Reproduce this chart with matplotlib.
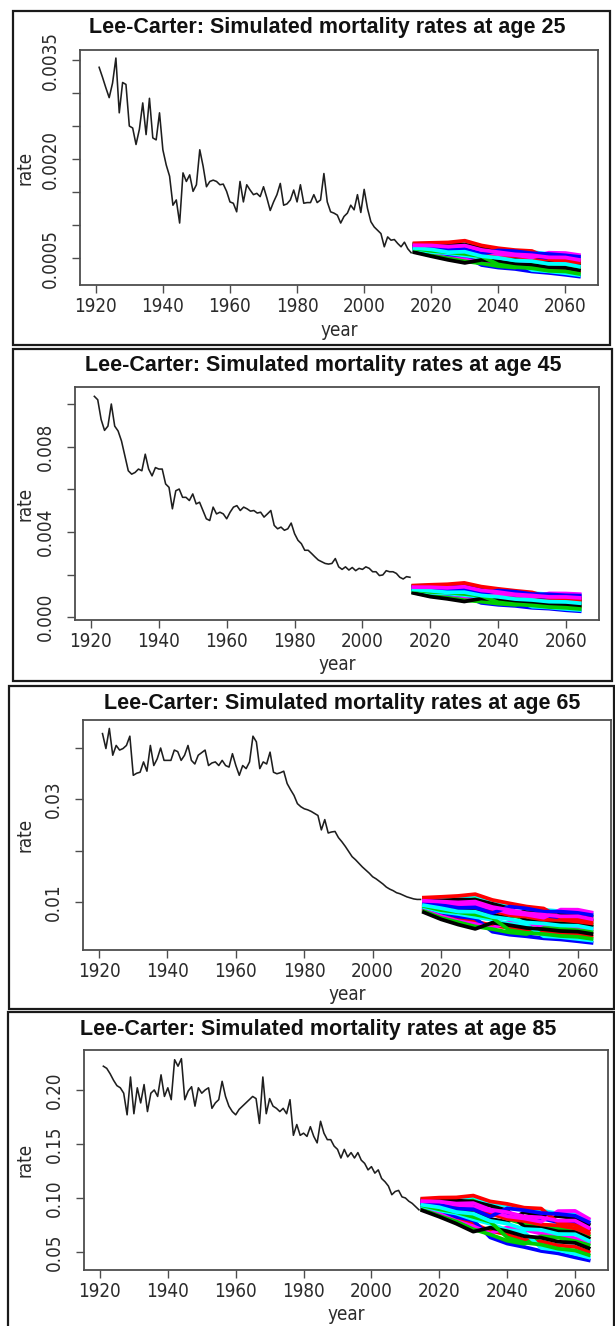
import numpy as np
import matplotlib
matplotlib.use("Agg")
import matplotlib.pyplot as plt
from matplotlib import font_manager
from matplotlib.font_manager import FontProperties
from matplotlib.patches import Rectangle

# ---------------- data ----------------
years_hist = list(range(1921, 2015))
sim_years = [2015, 2020, 2025, 2030, 2035, 2040, 2045, 2050, 2055, 2060, 2064]

# age 25 (x1e-4)
hist25 = [33.9, 32.4, 30.8, 29.3, 31.5, 35.3, 27.0, 31.6, 31.3, 25.0,
          24.7, 22.2, 24.5, 28.5, 23.7, 29.2, 23.2, 22.9, 27.0, 21.4,
          19.1, 17.4, 13.0, 13.8, 10.3, 17.9, 16.6, 17.6, 15.1, 16.1,
          21.4, 18.9, 15.8, 16.6, 16.8, 16.6, 16.1, 16.2, 15.1, 13.5,
          13.3, 12.0, 16.6, 13.5, 16.1, 15.3, 14.6, 14.8, 14.3, 15.8,
          14.1, 12.2, 13.5, 14.6, 16.3, 13.0, 13.2, 13.8, 15.3, 13.5,
          16.1, 13.3, 13.4, 13.4, 14.6, 13.4, 13.8, 17.8, 13.5, 12.0,
          11.8, 11.5, 10.3, 11.3, 11.8, 13.0, 12.3, 14.6, 11.9, 15.4,
          12.5, 10.5, 9.7, 9.2, 8.7, 6.7, 8.2, 7.7, 7.8, 7.2,
          6.7, 7.4, 6.4, 5.8]
sim25 = [
    [6.73, 6.50, 6.48, 6.30, 5.95, 5.35, 5.25, 4.88, 4.78, 4.50, 4.30],
    [7.23, 7.30, 7.36, 7.62, 6.90, 6.48, 6.20, 6.06, 4.96, 4.72, 4.50],
    [6.03, 5.58, 5.00, 4.78, 4.25, 4.75, 4.60, 4.24, 4.08, 3.82, 3.58],
    [6.58, 6.38, 6.05, 6.08, 5.45, 5.18, 5.86, 5.56, 5.44, 5.22, 5.00],
    [7.11, 7.05, 7.18, 7.20, 6.72, 5.38, 4.98, 4.90, 4.50, 4.48, 4.10],
    [5.85, 5.27, 4.72, 4.26, 4.72, 4.48, 4.10, 3.94, 3.56, 3.50, 3.12],
    [6.25, 5.90, 5.42, 5.30, 3.94, 3.55, 3.34, 2.96, 2.74, 2.46, 2.20],
    [7.03, 6.96, 7.04, 7.02, 6.56, 6.00, 4.80, 4.68, 4.30, 4.28, 3.90],
    [6.13, 5.72, 5.20, 5.02, 4.48, 4.22, 3.85, 3.68, 3.30, 3.22, 2.85],
    [6.43, 6.08, 5.88, 5.62, 5.25, 4.02, 3.62, 3.45, 3.06, 2.96, 2.60],
    [6.93, 6.90, 6.72, 6.88, 6.22, 5.88, 5.55, 5.42, 5.10, 5.08, 4.72],
    [6.82, 6.66, 6.62, 6.52, 6.10, 5.56, 5.44, 5.08, 5.80, 5.75, 5.45],
    [6.67, 6.60, 6.20, 6.35, 5.62, 6.15, 6.03, 5.72, 5.60, 5.40, 5.18],
    [7.15, 7.22, 7.10, 7.45, 6.70, 6.35, 6.00, 5.92, 5.60, 5.62, 5.30],
    [5.95, 5.38, 4.95, 4.50, 4.18, 3.76, 3.56, 4.02, 3.88, 3.60, 3.40],
    [6.51, 6.30, 5.88, 5.95, 5.28, 5.02, 4.62, 4.52, 4.12, 4.10, 3.72],
    [6.34, 5.92, 5.72, 5.38, 5.06, 4.55, 4.42, 3.18, 2.98, 2.70, 2.42],
    [6.88, 6.85, 6.60, 6.80, 6.10, 5.80, 5.42, 5.35, 4.98, 5.00, 4.58],
]

# age 45 (x1e-4)
hist45 = [103.8, 102.2, 92.9, 87.8, 89.8, 100.2, 89.8, 87.5, 82.8, 75.8,
          68.8, 67.2, 68.0, 69.6, 68.8, 76.6, 69.6, 66.4, 70.3, 69.6,
          69.6, 62.6, 61.0, 50.9, 59.4, 60.2, 56.3, 56.3, 54.8, 57.9,
          53.2, 54.0, 50.1, 46.2, 45.4, 51.7, 48.5, 49.3, 48.5, 46.2,
          49.3, 51.7, 52.4, 50.1, 51.7, 50.9, 49.8, 50.1, 48.9, 49.3,
          47.0, 48.5, 50.1, 43.1, 41.5, 42.3, 40.8, 41.5, 44.2, 39.2,
          36.1, 34.5, 31.4, 31.4, 29.9, 28.3, 26.8, 26.0, 25.2, 24.9,
          25.2, 27.5, 23.6, 22.4, 23.6, 22.1, 23.3, 21.8, 22.9, 22.4,
          23.6, 22.9, 21.3, 21.3, 19.5, 19.8, 21.8, 21.3, 21.3, 20.5,
          18.7, 17.9, 19.0, 18.7]
sim45 = [
    [13.56, 13.00, 13.05, 12.70, 11.75, 10.40, 9.95, 8.85, 8.70, 8.05, 7.90],
    [14.81, 15.15, 15.40, 16.05, 14.30, 13.25, 12.35, 11.58, 9.18, 8.58, 8.42],
    [11.77, 10.45, 9.20, 8.65, 7.45, 8.82, 8.35, 7.30, 7.10, 6.40, 6.15],
    [13.18, 12.65, 12.00, 12.10, 10.60, 9.90, 11.50, 10.40, 10.28, 9.78, 9.62],
    [14.51, 14.50, 14.95, 15.05, 13.80, 10.45, 9.30, 8.90, 8.10, 8.00, 7.50],
    [11.31, 9.58, 8.55, 7.30, 8.70, 8.12, 7.15, 6.65, 5.88, 5.65, 5.10],
    [12.34, 11.30, 10.35, 10.05, 6.65, 5.76, 5.25, 4.35, 3.95, 3.18, 2.75],
    [14.32, 14.20, 14.60, 14.60, 13.40, 12.05, 8.88, 8.35, 7.60, 7.50, 7.00],
    [12.04, 10.85, 9.72, 9.30, 8.05, 7.48, 6.52, 6.02, 5.24, 4.98, 4.40],
    [12.80, 11.80, 11.55, 10.85, 10.00, 6.90, 5.98, 5.45, 4.70, 4.35, 3.80],
    [14.05, 14.00, 13.70, 14.25, 12.50, 11.75, 10.65, 10.12, 9.45, 9.42, 9.02],
    [13.78, 13.35, 13.50, 13.25, 12.20, 10.90, 10.40, 9.30, 11.10, 11.05, 10.75],
    [13.40, 13.05, 12.45, 12.75, 11.05, 12.45, 11.88, 10.80, 10.65, 10.20, 10.05],
    [14.62, 14.95, 14.75, 15.75, 13.80, 12.95, 11.85, 11.25, 10.70, 10.70, 10.40],
    [11.58, 9.92, 9.10, 7.92, 7.25, 6.30, 5.76, 6.82, 6.62, 5.90, 5.70],
    [12.99, 12.35, 11.60, 11.70, 10.15, 9.50, 8.45, 8.00, 7.22, 7.10, 6.52],
    [12.57, 11.45, 11.10, 10.30, 9.50, 8.35, 7.90, 4.88, 4.48, 3.76, 3.32],
    [13.94, 13.80, 13.45, 14.00, 12.25, 11.55, 10.40, 9.95, 9.20, 9.25, 8.70],
]

# age 65 (x1e-3)
hist65 = [42.7, 39.8, 43.7, 38.5, 40.4, 39.5, 39.8, 40.4, 42.2, 34.6,
          35.0, 35.2, 37.2, 35.4, 40.4, 36.5, 37.8, 39.9, 37.5, 37.5,
          37.5, 39.5, 39.2, 37.5, 38.5, 40.4, 37.5, 36.8, 38.5, 39.0,
          39.5, 36.5, 37.0, 37.2, 36.5, 37.5, 36.5, 36.2, 38.8, 36.5,
          34.6, 36.5, 35.9, 37.2, 42.2, 41.1, 35.9, 37.2, 36.8, 39.1,
          35.2, 34.9, 35.1, 35.4, 33.0, 31.8, 30.7, 29.1, 28.5, 28.1,
          27.9, 27.6, 27.2, 26.8, 24.0, 26.0, 23.4, 23.6, 23.7, 22.5,
          21.7, 20.8, 19.8, 18.8, 18.2, 17.5, 16.8, 16.2, 15.6, 14.9,
          14.5, 14.0, 13.5, 12.9, 12.5, 12.2, 11.8, 11.6, 11.3, 11.0,
          10.8, 10.6, 10.5, 10.5]
sim65 = [
    [9.82, 9.35, 9.25, 8.95, 8.30, 7.45, 7.15, 6.55, 6.55, 6.20, 5.87],
    [10.85, 11.00, 11.18, 11.52, 10.40, 9.74, 9.12, 8.74, 6.92, 6.62, 6.24],
    [8.37, 7.26, 6.28, 5.74, 4.96, 6.16, 5.86, 5.32, 5.26, 4.90, 4.58],
    [9.51, 9.00, 8.50, 8.40, 7.48, 6.94, 8.42, 7.80, 7.82, 7.54, 7.14],
    [10.60, 10.52, 10.78, 10.80, 9.98, 7.45, 6.70, 6.55, 6.12, 6.12, 5.58],
    [7.99, 6.64, 5.62, 4.78, 5.98, 5.50, 4.96, 4.72, 4.36, 4.24, 3.80],
    [8.83, 7.96, 7.18, 6.82, 4.24, 3.66, 3.34, 2.95, 2.73, 2.38, 2.08],
    [10.44, 10.30, 10.46, 10.44, 9.64, 8.76, 6.36, 6.10, 5.75, 5.70, 5.22],
    [8.58, 7.58, 6.68, 6.24, 5.44, 4.98, 4.46, 4.22, 3.86, 3.70, 3.30],
    [9.20, 8.42, 8.02, 7.55, 6.92, 4.52, 4.00, 3.78, 3.40, 3.24, 2.85],
    [10.23, 10.08, 9.92, 10.08, 9.02, 8.44, 7.82, 7.52, 7.22, 7.22, 6.70],
    [10.01, 9.65, 9.62, 9.44, 8.70, 7.86, 7.52, 6.95, 8.52, 8.50, 7.97],
    [9.70, 9.38, 8.85, 8.95, 7.85, 9.10, 8.74, 8.12, 8.12, 7.88, 7.46],
    [10.69, 10.80, 10.70, 11.30, 10.05, 9.50, 8.75, 8.50, 8.20, 8.25, 7.70],
    [8.21, 6.92, 6.08, 5.25, 4.74, 4.10, 3.78, 4.95, 4.88, 4.50, 4.25],
    [9.36, 8.80, 8.15, 8.10, 7.10, 6.68, 6.02, 5.82, 5.44, 5.38, 4.88],
    [9.02, 8.10, 7.68, 7.08, 6.55, 5.75, 5.52, 3.36, 3.18, 2.82, 2.52],
    [10.13, 9.95, 9.68, 9.92, 8.80, 8.32, 7.60, 7.38, 7.02, 7.05, 6.48],
]

# age 85 (x1e-2)
hist85 = [22.2, 22.0, 21.5, 20.9, 20.4, 20.2, 19.7, 17.7, 21.2, 17.8,
          20.2, 18.8, 20.5, 18.0, 19.7, 20.0, 19.4, 21.4, 19.4, 20.2,
          19.1, 22.8, 22.2, 22.9, 19.1, 19.9, 20.3, 18.5, 20.2, 19.7,
          20.0, 20.2, 18.3, 18.8, 19.1, 20.8, 19.4, 18.5, 18.0, 17.7,
          18.2, 18.5, 18.8, 19.1, 19.4, 19.2, 16.9, 21.2, 17.8, 19.2,
          18.5, 18.3, 18.0, 18.3, 17.8, 19.1, 15.8, 16.8, 15.8, 16.0,
          15.7, 16.6, 15.7, 15.1, 17.1, 16.0, 15.4, 15.4, 14.8, 14.5,
          13.7, 14.5, 13.8, 14.2, 13.7, 14.2, 13.5, 13.2, 12.6, 12.9,
          12.3, 12.6, 11.8, 11.5, 11.1, 10.3, 10.6, 10.7, 10.1, 10.0,
          9.7, 9.5, 9.2, 8.9]
sim85 = [
    [9.54, 9.33, 9.22, 8.94, 8.55, 8.06, 7.87, 7.54, 7.46, 7.18, 6.70],
    [9.94, 10.03, 10.05, 10.22, 9.68, 9.45, 9.10, 9.02, 7.72, 7.48, 6.96],
    [8.98, 8.54, 7.87, 7.38, 6.72, 7.28, 7.06, 6.70, 6.58, 6.27, 5.86],
    [9.42, 9.24, 8.85, 8.70, 8.06, 7.78, 8.67, 8.38, 8.32, 8.12, 7.54],
    [9.84, 9.80, 9.90, 9.84, 9.46, 8.06, 7.58, 7.52, 7.15, 7.12, 6.50],
    [8.84, 8.26, 7.62, 6.88, 7.25, 6.92, 6.46, 6.32, 5.95, 5.84, 5.35],
    [9.16, 8.82, 8.26, 7.92, 6.35, 5.78, 5.46, 5.09, 4.87, 4.50, 4.23],
    [9.78, 9.72, 9.76, 9.66, 9.28, 8.85, 7.35, 7.24, 6.90, 6.85, 6.27],
    [9.06, 8.67, 8.04, 7.63, 6.95, 6.62, 6.13, 5.98, 5.60, 5.47, 5.01],
    [9.30, 8.95, 8.68, 8.24, 7.80, 6.34, 5.86, 5.68, 5.30, 5.14, 4.72],
    [9.70, 9.66, 9.48, 9.52, 8.92, 8.68, 8.28, 8.20, 7.90, 7.90, 7.24],
    [9.62, 9.45, 9.38, 9.16, 8.78, 8.30, 8.10, 7.80, 8.78, 8.80, 8.08],
    [9.50, 9.36, 9.00, 8.95, 8.28, 9.04, 8.86, 8.60, 8.52, 8.35, 7.75],
    [9.88, 9.95, 9.86, 10.12, 9.48, 9.28, 8.90, 8.84, 8.56, 8.60, 7.92],
    [8.92, 8.35, 7.82, 7.10, 6.62, 6.04, 5.75, 6.45, 6.33, 6.00, 5.64],
    [9.36, 9.14, 8.70, 8.55, 7.88, 7.62, 7.12, 7.05, 6.66, 6.64, 6.04],
    [9.23, 8.84, 8.55, 8.02, 7.60, 7.04, 6.84, 5.37, 5.18, 4.82, 4.50],
    [9.66, 9.62, 9.38, 9.46, 8.80, 8.60, 8.15, 8.10, 7.76, 7.78, 7.10],
]

ages = [25, 45, 65, 85]
units = [1e-4, 1e-4, 1e-3, 1e-2]
x_ticks = [1920, 1940, 1960, 1980, 2000, 2020, 2040, 2060]
y_ticks = [[0.0005, 0.0010, 0.0015, 0.0020, 0.0025, 0.0030, 0.0035],
           [0.000, 0.002, 0.004, 0.006, 0.008, 0.010],
           [0.01, 0.02, 0.03, 0.04],
           [0.05, 0.10, 0.15, 0.20]]
y_ticklabels = [["0.0005", "", "", "0.0020", "", "", "0.0035"],
                ["0.000", "", "0.004", "", "0.008", ""],
                ["0.01", "", "0.03", ""],
                ["0.05", "0.10", "0.15", "0.20"]]
hists = [hist25, hist45, hist65, hist85]
sims = [sim25, sim45, sim65, sim85]

# drawing order of the simulated paths (colours cycle as in R's matplot)
path_order = [3, 8, 4, 6, 13, 2, 7, 0, 14, 17, 16, 11, 5, 1, 9, 12, 15, 10]

# ---------------- layout (pixels) ----------------
W, H = 615, 1326
axes_px = [(80, 50, 598, 285), (75, 387, 599, 620), (83, 720, 611, 950), (84, 1050, 608, 1270)]
frames_px = [(13, 11, 610, 345), (13, 349, 612, 681), (9, 686, 614, 1009), (8, 1012, 614, 1332)]
title_pos = [(327, 27), (323, 365), (342, 703), (318, 1030)]
ylims = [(0.000091, 0.003652), (-0.00014, 0.01082), (0.00068, 0.04534), (0.0333, 0.237)]
xlim = (1915.3, 2069.7)
rate_x = 25

# condensed face for axis text if available (the reference uses a narrow face)
cond_path = None
for f in font_manager.fontManager.ttflist:
    if f.name in ("DejaVu Sans", "DejaVu Sans Condensed") and \
            "condensed" in str(f.stretch).lower() and f.weight in (400, "normal", "regular") \
            and f.style == "normal":
        cond_path = f.fname
        break
AXFS = 13.5
if cond_path:
    def axfp():
        return FontProperties(fname=cond_path, size=AXFS)
else:
    def axfp():
        return FontProperties(family=["Liberation Sans", "DejaVu Sans"], size=13.5)

plt.rcParams["font.family"] = ["Liberation Sans", "DejaVu Sans"]
TITLE_FS = 15.5

R_COLORS = ["#000000", "#FF0000", "#00CD00", "#0000FF", "#00FFFF", "#FF00FF"]
BOX = "#4d4d4d"
TXT = "#2b2b2b"

fig = plt.figure(figsize=(W / 100, H / 100), dpi=100)
fig.patch.set_facecolor("white")

for k in range(4):
    l, t, r, b = axes_px[k]
    ax = fig.add_axes([l / W, 1 - b / H, (r - l) / W, (b - t) / H])
    u = units[k]
    ax.plot(years_hist, np.array(hists[k]) * u, color="#1e1e1e", lw=1.15, zorder=3)
    for i, p in enumerate(path_order):
        ax.plot(sim_years, np.array(sims[k][p]) * u, color=R_COLORS[i % 6],
                ls="-", lw=2.7, zorder=2)
    ax.set_xlim(*xlim)
    ax.set_ylim(*ylims[k])
    ax.set_xticks(x_ticks)
    ax.set_xticklabels([str(v) for v in x_ticks])
    ax.set_yticks(y_ticks[k])
    ax.set_yticklabels(y_ticklabels[k])
    for s in ax.spines.values():
        s.set_color(BOX)
        s.set_linewidth(1.3)
    ax.tick_params(axis="both", length=5.8, width=1.0, color=BOX, labelcolor=TXT)
    ax.tick_params(axis="x", pad=2.5)
    ax.tick_params(axis="y", pad=9, labelrotation=90)
    for lbl in ax.get_xticklabels():
        lbl.set_fontproperties(axfp())
    for lbl in ax.get_yticklabels():
        lbl.set_fontproperties(axfp())
        lbl.set_va("center")
        lbl.set_ha("right")
    ah = b - t
    aw = r - l
    ax.set_xlabel("year", fontproperties=axfp(), color=TXT, va="center")
    ax.xaxis.set_label_coords(0.5, -45 / ah)
    ax.set_ylabel("rate", fontproperties=axfp(), color=TXT, va="center", ha="center")
    ax.yaxis.set_label_coords(-(l - rate_x) / aw, 0.5)
    tx, ty = title_pos[k]
    fig.text(tx / W, 1 - ty / H,
             f"Lee-Carter: Simulated mortality rates at age {ages[k]}",
             fontsize=TITLE_FS, fontweight="bold", color="#111111",
             ha="center", va="center")
    fx0, fy0, fx1, fy1 = frames_px[k]
    fig.add_artist(Rectangle((fx0 / W, 1 - fy1 / H), (fx1 - fx0) / W, (fy1 - fy0) / H,
                             transform=fig.transFigure, fill=False,
                             edgecolor="#1a1a1a", lw=1.6))

fig.savefig("out.png", dpi=100, facecolor="white")
